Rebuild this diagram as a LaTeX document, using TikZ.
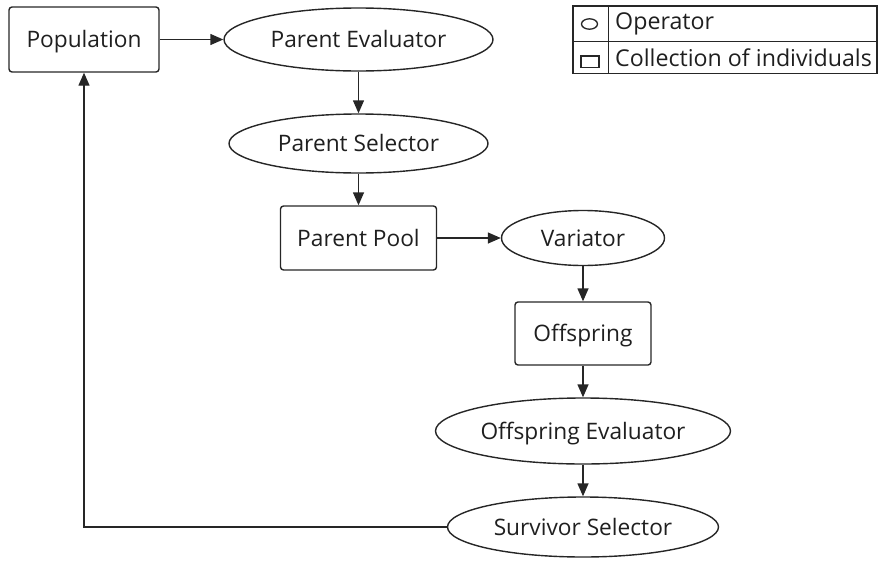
\documentclass[tikz,border=0pt]{standalone}
\usepackage{fontspec}
\setmainfont{Open Sans}
\usetikzlibrary{shapes.geometric,arrows.meta}

\tikzset{
  base/.style={draw=black!85, line width=1.4pt, text=black!88, inner sep=0pt,
               font=\fontsize{22.7}{26}\selectfont,
               text height=20.4pt, text depth=4.4pt},
  operator/.style={base, ellipse},
  collection/.style={base, rectangle, rounded corners=3pt},
  flow/.style={draw=black!85, line width=1.4pt,
               -{Triangle[length=13pt,width=11pt]}},
  legendtext/.style={anchor=base west, inner sep=0pt, text=black!88,
                     font=\fontsize{23.2}{27}\selectfont},
  legendline/.style={draw=black!85, line width=1.4pt},
}

\begin{document}
\begin{tikzpicture}[x=1pt, y=-1pt]
  \useasboundingbox (0,0) rectangle (881,560);

  % main loop of the evolutionary algorithm
  \node[collection, minimum width=150pt, minimum height=65pt] (pop) at (84,39.5) {Population};
  \node[operator, minimum width=269pt, minimum height=63pt] (peval) at (358.5,39.5) {Parent Evaluator};
  \node[operator, minimum width=259pt, minimum height=59pt] (psel) at (358.5,143.5) {Parent Selector};
  \node[collection, minimum width=156pt, minimum height=64pt] (pool) at (358.5,238) {Parent Pool};
  \node[operator, minimum width=163pt, minimum height=55pt] (var) at (583,238) {Variator};
  \node[collection, minimum width=136pt, minimum height=63pt] (off) at (583,333.5) {Offspring};
  \node[operator, minimum width=295pt, minimum height=66pt] (oeval) at (583,431) {Offspring Evaluator};
  \node[operator, minimum width=271pt, minimum height=60pt] (ssel) at (583,527) {Survivor Selector};

  \draw[flow] (pop.east) -- (peval.west);
  \draw[flow] (peval.south) -- (psel.north);
  \draw[flow] (psel.south) -- (pool.north);
  \draw[flow] (pool.east) -- (var.west);
  \draw[flow] (var.south) -- (off.north);
  \draw[flow] (off.south) -- (oeval.north);
  \draw[flow] (oeval.south) -- (ssel.north);
  \draw[flow] (ssel.west) -| (pop.south);

  % legend table
  \draw[legendline] (573,6) rectangle (877,73.5);
  \draw[legendline] (573,41.5) -- (877,41.5);
  \draw[legendline] (608.5,6) -- (608.5,73.5);
  \draw[legendline, line width=1.3pt] (589.5,24) ellipse (8pt and 5.2pt);
  \draw[legendline, line width=1.3pt] (581,56) rectangle (599,67.5);
  \node[legendtext] (lgop) at (615,29.5) {Operator};
  \node[legendtext] (lgcol) at (615,66) {Collection of individuals};
\end{tikzpicture}
\end{document}
